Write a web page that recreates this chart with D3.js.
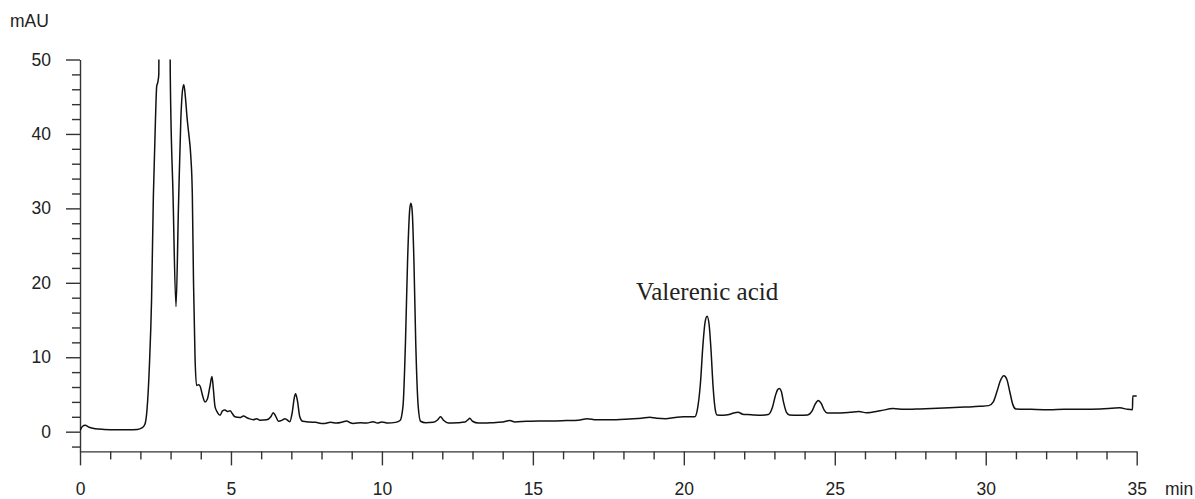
<!DOCTYPE html>
<html>
<head>
<meta charset="utf-8">
<script src="https://cdn.jsdelivr.net/npm/d3@7"></script>
<style>
  body { margin: 0; background: #fff; }
  svg { display: block; }
</style>
</head>
<body>
<svg id="chart" width="1195" height="499"></svg>
<script>
// retention time (min) and absorbance (mAU)
const times = [
  0, 0.08, 0.17, 0.3, 0.5, 0.8, 1.2, 1.6, 1.9, 2.05, 2.15,
  2.22, 2.3, 2.37, 2.43, 2.5, 2.54, 2.58, 2.61, 2.64, 2.8, 2.96, 2.99, 3.08, 3.18,
  3.26, 3.34, 3.4, 3.44, 3.49, 3.55, 3.6, 3.67, 3.72, 3.76, 3.81, 3.86, 3.93, 3.98,
  4.05, 4.14, 4.22, 4.3, 4.37, 4.42, 4.47, 4.55, 4.64, 4.72, 4.8, 4.9, 4.97, 5.05,
  5.13, 5.3, 5.41, 5.57, 5.74, 5.85, 5.96, 6.18, 6.32, 6.4, 6.48, 6.57, 6.7, 6.79,
  6.95, 7.03, 7.1, 7.14, 7.2, 7.28, 7.37, 7.6, 7.8, 8.06, 8.3, 8.5, 8.7, 8.83, 8.95,
  9.05, 9.3, 9.5, 9.71, 9.85, 10.0, 10.2, 10.45, 10.6, 10.7, 10.78, 10.85, 10.92,
  10.96, 11.0, 11.06, 11.12, 11.2, 11.28, 11.45, 11.7, 11.85, 11.94, 12.05, 12.2,
  12.5, 12.75, 12.85, 12.91, 13.0, 13.2, 13.6, 14.0, 14.24, 14.4, 14.8, 15.2, 15.6,
  16.1, 16.5, 16.8, 17.1, 17.5, 17.76, 18.2, 18.6, 18.87, 19.1, 19.4, 19.7, 19.98,
  20.2, 20.36, 20.45, 20.55, 20.63, 20.7, 20.77, 20.84, 20.9, 20.97, 21.04, 21.1,
  21.3, 21.5, 21.65, 21.8, 21.95, 22.1, 22.3, 22.5, 22.8, 22.93, 23.03, 23.1, 23.16,
  23.23, 23.3, 23.4, 23.5, 23.8, 24.1, 24.25, 24.35, 24.45, 24.55, 24.65, 24.75,
  25.0, 25.5, 25.8, 26.05, 26.5, 26.93, 27.3, 27.7, 28.2, 28.8, 29.3, 29.8, 30.1,
  30.25, 30.38, 30.48, 30.6, 30.7, 30.8, 30.9, 31.0, 31.5, 32.1, 32.6, 33.2, 33.8,
  34.44, 34.7, 34.86, 34.87, 35.0
];
const signal = [
  0.15, 0.7, 0.85, 0.6, 0.4, 0.3, 0.25, 0.25, 0.3, 0.5, 1.0,
  3, 9, 17.7, 31.6, 42, 46.4, 47, 48, 70, 120, 70, 48, 32, 16.8,
  30, 42, 46, 46.6, 45, 42, 40.1, 37, 32, 20, 10, 6.2, 6.3, 6.1,
  5, 4.0, 4.4, 6, 7.4, 5.6, 3.4, 2.6, 2.2, 2.8, 2.9, 2.7, 2.8, 2.4,
  2.0, 1.9, 2.1, 1.8, 1.6, 1.75, 1.55, 1.6, 2.0, 2.55, 2.1, 1.4, 1.55, 1.75,
  1.35, 2.6, 4.6, 5.1, 4.2, 2.0, 1.4, 1.3, 1.25, 1.1, 1.25, 1.15, 1.3, 1.45, 1.2,
  1.1, 1.2, 1.15, 1.35, 1.15, 1.3, 1.15, 1.25, 1.5, 3.5, 12, 23, 29.8,
  30.7, 29.8, 23, 12, 3.5, 1.4, 1.2, 1.25, 1.6, 2.0, 1.5, 1.15,
  1.2, 1.3, 1.6, 1.8, 1.4, 1.15, 1.2, 1.3, 1.5, 1.3, 1.4, 1.45, 1.45,
  1.5, 1.55, 1.75, 1.6, 1.6, 1.6, 1.7, 1.8, 1.95, 1.8, 1.75, 1.9, 2.0,
  2.0, 2.0, 3.0, 6.5, 11.5, 14.6, 15.5, 14.3, 11, 6, 3, 2.25,
  2.2, 2.3, 2.5, 2.6, 2.35, 2.3, 2.25, 2.2, 2.3, 3.2, 4.8, 5.6, 5.8,
  5.4, 4.0, 2.6, 2.25, 2.2, 2.25, 2.8, 3.7, 4.2, 3.8, 2.9, 2.5,
  2.5, 2.6, 2.7, 2.55, 2.8, 3.1, 3.0, 3.05, 3.1, 3.2, 3.3, 3.4, 3.5,
  4.0, 5.5, 6.8, 7.5, 7.0, 5.3, 3.6, 3.05, 3.0, 2.95, 3.0, 3.0, 3.05,
  3.2, 3.0, 2.95, 4.8, 4.8
];

const xMajor = [0, 5, 10, 15, 20, 25, 30, 35];
const yMajor = [0, 10, 20, 30, 40, 50];
const peakLabel = "Valerenic acid";
const peakTime = 20.77;

const svg = d3.select("#chart");
const font = "'Liberation Sans', Arial, sans-serif";

const x = d3.scaleLinear().domain([0, 35]).range([80, 1136.7]);
const y = d3.scaleLinear().domain([-2.65, 50]).range([451.4, 59.5]);

const trace = times.map((t, i) => [t, signal[i]]);

svg.append("clipPath").attr("id", "plot-clip")
  .append("rect")
  .attr("x", x(0)).attr("y", y(50))
  .attr("width", x(35) - x(0) + 2).attr("height", y(-2.65) - y(50));

// y axis, minor ticks every 2 mAU
svg.append("g")
  .attr("transform", `translate(${x(0)},0)`)
  .call(d3.axisLeft(y)
    .tickValues(d3.range(-2, 51, 2).filter(v => v % 10 !== 0))
    .tickSize(8).tickFormat(""))
  .call(g => g.select(".domain").remove());

svg.append("g")
  .attr("transform", `translate(${x(0)},0)`)
  .call(d3.axisLeft(y).tickValues(yMajor).tickSize(14).tickSizeOuter(0).tickPadding(15));

// x axis, minor ticks every minute
svg.append("g")
  .attr("transform", `translate(0,${y(-2.65)})`)
  .call(d3.axisBottom(x)
    .tickValues(d3.range(0, 36, 1).filter(v => v % 5 !== 0))
    .tickSize(8).tickFormat(""))
  .call(g => g.select(".domain").remove());

svg.append("g")
  .attr("transform", `translate(0,${y(-2.65)})`)
  .call(d3.axisBottom(x).tickValues(xMajor).tickSize(14).tickSizeOuter(0).tickPadding(17));

svg.selectAll(".tick text")
  .attr("font-family", font).attr("font-size", 17.5).attr("fill", "#222");
svg.selectAll(".domain, .tick line")
  .attr("stroke", "#333").attr("stroke-width", 1.4);

svg.append("text")
  .attr("x", 10).attr("y", 27)
  .attr("font-family", font).attr("font-size", 17.5).attr("fill", "#222")
  .text("mAU");

svg.append("text")
  .attr("x", 1165).attr("y", y(-2.65) + 31).attr("dy", "0.71em")
  .attr("font-family", font).attr("font-size", 17.5).attr("fill", "#222")
  .text("min");

const line = d3.line()
  .x(d => x(d[0]))
  .y(d => y(d[1]))
  .curve(d3.curveMonotoneX);

svg.append("path")
  .datum(trace)
  .attr("clip-path", "url(#plot-clip)")
  .attr("fill", "none")
  .attr("stroke", "#111")
  .attr("stroke-width", 1.5)
  .attr("stroke-linejoin", "round")
  .attr("d", line);

svg.append("text")
  .attr("x", x(peakTime)).attr("y", y(17.7))
  .attr("text-anchor", "middle")
  .attr("font-family", "'Liberation Serif', 'Times New Roman', serif")
  .attr("font-size", 25).attr("fill", "#222")
  .text(peakLabel);
</script>
</body>
</html>
